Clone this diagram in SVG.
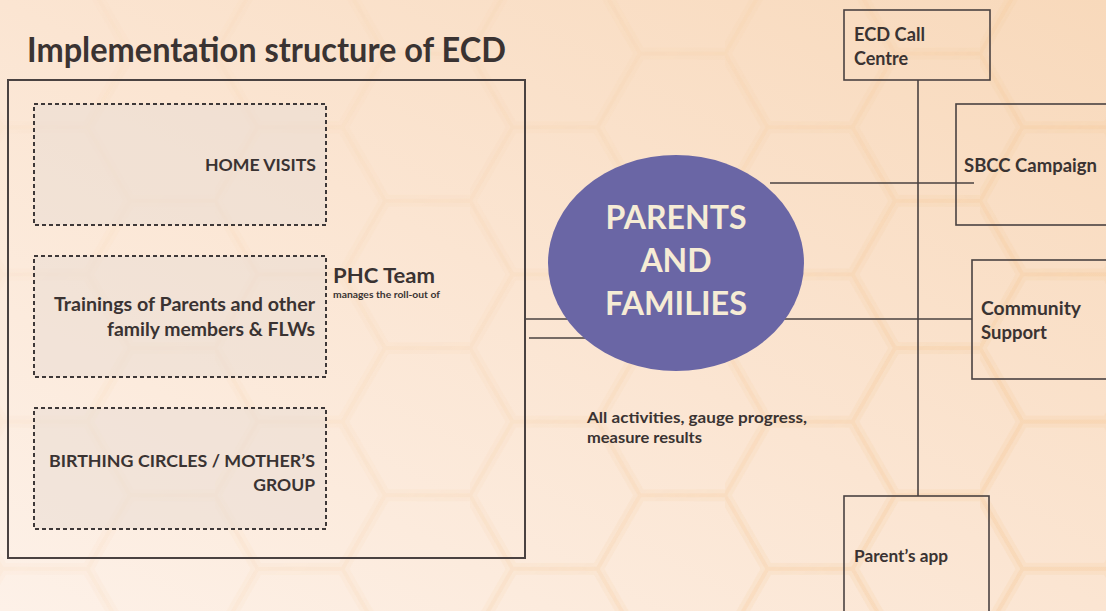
<svg xmlns="http://www.w3.org/2000/svg" width="1106" height="611" viewBox="0 0 1106 611">
  <defs>
    <linearGradient id="bg" x1="1" y1="0" x2="0" y2="1">
      <stop offset="0" stop-color="#f8d9bb"/>
      <stop offset="0.5" stop-color="#fbe5d2"/>
      <stop offset="1" stop-color="#fdf1e8"/>
    </linearGradient>
    <pattern id="hex" width="255" height="147.22" patternUnits="userSpaceOnUse" x="-40" y="-20">
      <path d="M170 73.61 L127.5 147.22 L42.5 147.22 L0 73.61 L42.5 0 L127.5 0 Z M170 73.61 L255 73.61" fill="none" stroke="#f5c691" stroke-width="12" stroke-opacity="0.18"/>
      <path d="M170 73.61 L127.5 147.22 L42.5 147.22 L0 73.61 L42.5 0 L127.5 0 Z M170 73.61 L255 73.61" fill="none" stroke="#f3c08a" stroke-width="4" stroke-opacity="0.25"/>
    </pattern>
    <linearGradient id="fade" x1="0" y1="0" x2="1" y2="0.4">
      <stop offset="0" stop-color="#fff" stop-opacity="0.15"/>
      <stop offset="0.6" stop-color="#fff" stop-opacity="0.4"/>
      <stop offset="1" stop-color="#fff" stop-opacity="0.9"/>
    </linearGradient>
    <mask id="hexMask">
      <rect width="1106" height="611" fill="url(#fade)"/>
    </mask>
    <style>
      .t { font-family: Lato, "Open Sans", "Liberation Sans", sans-serif; fill: #3a3332; font-weight: 700; }
      .frame { fill: none; stroke: #4a4241; stroke-width: 2; }
      .dash { fill: #e9ddd3; fill-opacity: 0.55; stroke: #3e3838; stroke-width: 2; stroke-dasharray: 4 3; }
      .box { fill: none; stroke: #4a4241; stroke-width: 1.6; }
      .link { stroke: #4a4241; stroke-width: 1.6; fill: none; }
    </style>
  </defs>

  <!-- backdrop with faint hexagon texture -->
  <rect width="1106" height="611" fill="url(#bg)"/>
  <rect width="1106" height="611" fill="url(#hex)" mask="url(#hexMask)"/>

  <text class="t" x="27" y="62" font-size="34" textLength="479" lengthAdjust="spacingAndGlyphs">Implementation structure of ECD</text>

  <!-- connectors -->
  <g id="connectors">
    <line class="link" x1="525" y1="319" x2="600" y2="319"/>
    <line class="link" x1="529" y1="338" x2="590" y2="338"/>
    <line class="link" x1="760" y1="319" x2="972" y2="319"/>
    <line class="link" x1="770" y1="183" x2="974" y2="183"/>
    <line class="link" x1="918" y1="80" x2="918" y2="496"/>
  </g>

  <g id="ecd-structure">
    <rect class="frame" x="8" y="80" width="517" height="478"/>
  </g>

  <g id="home-visits">
    <rect class="dash" x="34" y="104" width="292" height="121"/>
    <text class="t" x="316" y="171" font-size="17.5" text-anchor="end" textLength="111" lengthAdjust="spacingAndGlyphs">HOME VISITS</text>
  </g>

  <g id="trainings">
    <rect class="dash" x="34" y="256" width="292" height="121"/>
    <text class="t" x="315" y="311" font-size="18.5" text-anchor="end" textLength="261" lengthAdjust="spacingAndGlyphs">Trainings of Parents and other</text>
    <text class="t" x="315" y="336" font-size="18.5" text-anchor="end" textLength="208" lengthAdjust="spacingAndGlyphs">family members &amp; FLWs</text>
  </g>

  <g id="birthing-circles">
    <rect class="dash" x="34" y="408" width="292" height="121"/>
    <text class="t" x="315" y="467" font-size="17.5" text-anchor="end" textLength="266" lengthAdjust="spacingAndGlyphs">BIRTHING CIRCLES / MOTHER’S</text>
    <text class="t" x="315" y="491" font-size="17.5" text-anchor="end">GROUP</text>
  </g>

  <g id="phc-team">
    <text class="t" x="333" y="283" font-size="21.5" textLength="102" lengthAdjust="spacingAndGlyphs">PHC Team</text>
    <text class="t" x="333" y="298" font-size="9.5" textLength="107" lengthAdjust="spacingAndGlyphs">manages the roll-out of</text>
  </g>

  <g id="parents-families">
    <ellipse cx="676" cy="263" rx="128" ry="108" fill="#6a66a5"/>
    <g class="t" font-size="32" text-anchor="middle" style="fill:#f6ecd5">
      <text x="676" y="229" textLength="141" lengthAdjust="spacingAndGlyphs">PARENTS</text>
      <text x="676" y="272">AND</text>
      <text x="676" y="315" textLength="142" lengthAdjust="spacingAndGlyphs">FAMILIES</text>
    </g>
  </g>

  <g id="activities-note">
    <text class="t" x="587" y="423" font-size="16" textLength="220" lengthAdjust="spacingAndGlyphs">All activities, gauge progress,</text>
    <text class="t" x="587" y="443" font-size="16" textLength="115" lengthAdjust="spacingAndGlyphs">measure results</text>
  </g>

  <g id="ecd-call-centre">
    <rect class="box" x="844" y="10" width="146" height="70"/>
    <text class="t" x="854" y="41" font-size="18" textLength="71" lengthAdjust="spacingAndGlyphs">ECD Call</text>
    <text class="t" x="854" y="65" font-size="18">Centre</text>
  </g>

  <g id="sbcc-campaign">
    <rect class="box" x="956" y="104" width="160" height="121"/>
    <text class="t" x="964" y="172" font-size="18" textLength="133" lengthAdjust="spacingAndGlyphs">SBCC Campaign</text>
  </g>

  <g id="community-support">
    <rect class="box" x="972" y="260" width="144" height="119"/>
    <text class="t" x="981" y="315" font-size="18.5" textLength="100" lengthAdjust="spacingAndGlyphs">Community</text>
    <text class="t" x="981" y="339" font-size="18.5">Support</text>
  </g>

  <g id="parents-app">
    <rect class="box" x="844" y="496" width="145" height="130"/>
    <text class="t" x="854" y="562" font-size="17" textLength="94" lengthAdjust="spacingAndGlyphs">Parent’s app</text>
  </g>
</svg>
